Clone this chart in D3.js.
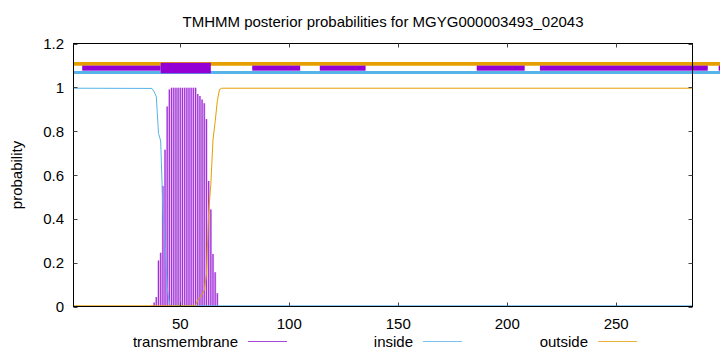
<!DOCTYPE html>
<html>
<head>
<meta charset="utf-8">
<script src="https://cdn.jsdelivr.net/npm/d3@7.9.0/dist/d3.min.js"></script>
<style>
  body { margin: 0; background: #fff; }
  svg { display: block; font-family: "Liberation Sans", Arial, sans-serif; }
</style>
</head>
<body>
<svg id="chart" width="720" height="352"></svg>
<script>
const title = 'TMHMM posterior probabilities for MGYG000003493_02043';
const seqLength = 285;

// transmembrane posterior per residue (only the non-zero part)
const tmResidues = [37, 38, 39, 40, 41, 42, 43, 44, 45, 46, 47, 48, 49, 50, 51, 52,
  53, 54, 55, 56, 57, 58, 59, 60, 61, 62, 63, 64, 65, 66, 67];
const tmValues = [0.005, 0.018, 0.043, 0.21, 0.245, 0.55, 0.715, 0.913, 0.99, 0.998,
  0.998, 0.998, 0.998, 0.998, 0.998, 0.998, 0.998, 0.998, 0.998, 0.998, 0.998,
  0.97, 0.96, 0.944, 0.927, 0.855, 0.573, 0.443, 0.24, 0.156, 0.061];

// inside / outside curves
const insidePos = [1, 37, 38, 39, 40, 41, 42, 43, 44, 45, 46, 285];
const insideVal = [0.996, 0.995, 0.98, 0.957, 0.79, 0.755, 0.45, 0.285, 0.087, 0.01, 0.003, 0.003];
const outsidePos = [1, 57, 58, 59, 60, 61, 62, 63, 64, 65, 66, 67, 68, 69, 285];
const outsideVal = [0.003, 0.003, 0.03, 0.04, 0.056, 0.073, 0.145, 0.427, 0.557, 0.76, 0.844, 0.939, 0.99, 0.996, 0.996];

// topology bar at the top
const topoStart = 1, topoEnd = 300;
const bandSegments = [[5, 41], [83, 105], [114, 135], [186, 208], [215, 292], [297, 310]];
const tmSegments = [[41, 64]];

const xTicks = [50, 100, 150, 200, 250];
const yTicks = [0, 0.2, 0.4, 0.6, 0.8, 1, 1.2];
const legendItems = ['transmembrane', 'inside', 'outside'];

const colors = { tm: '#9400d3', inside: '#56b4e9', outside: '#e69f00' };
const legendColors = ['#a848d8', '#7cc2ec', '#ebb23c'];

const svg = d3.select('#chart');
const x = d3.scaleLinear().domain([1, seqLength]).range([73.5, 692.5]);
const y = d3.scaleLinear().domain([0, 1.2]).range([306.5, 43.5]);

// top topology bar
svg.append('line')
  .attr('x1', x(topoStart)).attr('x2', x(topoEnd))
  .attr('y1', y(1.107)).attr('y2', y(1.107))
  .attr('stroke', colors.outside).attr('stroke-width', 3.7);
svg.append('line')
  .attr('x1', x(topoStart)).attr('x2', x(topoEnd))
  .attr('y1', y(1.068)).attr('y2', y(1.068))
  .attr('stroke', colors.inside).attr('stroke-width', 3);
svg.selectAll('rect.band').data(bandSegments).join('rect')
  .attr('class', 'band')
  .attr('x', d => x(d[0])).attr('width', d => x(d[1]) - x(d[0]))
  .attr('y', y(1.099)).attr('height', y(1.076) - y(1.099))
  .attr('fill', colors.tm);
svg.selectAll('rect.tmbox').data(tmSegments).join('rect')
  .attr('class', 'tmbox')
  .attr('x', d => x(d[0])).attr('width', d => x(d[1]) - x(d[0]))
  .attr('y', y(1.112)).attr('height', y(1.064) - y(1.112))
  .attr('fill', colors.tm);

// transmembrane impulses
const step = x(2) - x(1);
const tm = tmResidues.map((r, i) => ({ r, v: tmValues[i] }));
svg.selectAll('rect.tmfill').data(tm).join('rect')
  .attr('class', 'tmfill')
  .attr('x', d => x(d.r) - step / 2).attr('width', step)
  .attr('y', d => y(d.v)).attr('height', d => y(0) - y(d.v))
  .attr('fill', '#dcaef0');
svg.selectAll('line.tm').data(tm).join('line')
  .attr('class', 'tm')
  .attr('x1', d => x(d.r)).attr('x2', d => x(d.r))
  .attr('y1', y(0)).attr('y2', d => y(d.v))
  .attr('stroke', '#a030d8').attr('stroke-width', 1.1);

// inside / outside curves
const line = d3.line().x(d => x(d[0])).y(d => y(d[1]));
svg.append('path')
  .attr('d', line(insidePos.map((p, i) => [p, insideVal[i]])))
  .attr('fill', 'none').attr('stroke', colors.inside).attr('stroke-width', 1);
svg.append('path')
  .attr('d', line(outsidePos.map((p, i) => [p, outsideVal[i]])))
  .attr('fill', 'none').attr('stroke', colors.outside).attr('stroke-width', 1);

// border
svg.append('rect')
  .attr('x', x.range()[0]).attr('y', y.range()[1])
  .attr('width', x.range()[1] - x.range()[0]).attr('height', y.range()[0] - y.range()[1])
  .attr('fill', 'none').attr('stroke', '#000').attr('stroke-width', 1);

// ticks (inward, mirrored)
const tickLen = 4;
const g = svg.append('g').attr('stroke', '#444').attr('stroke-width', 1);
xTicks.forEach(t => {
  g.append('line').attr('x1', Math.round(x(t)) + 0.5).attr('x2', Math.round(x(t)) + 0.5)
    .attr('y1', y(0)).attr('y2', y(0) - tickLen);
  g.append('line').attr('x1', Math.round(x(t)) + 0.5).attr('x2', Math.round(x(t)) + 0.5)
    .attr('y1', y(1.2)).attr('y2', y(1.2) + tickLen);
});
yTicks.forEach(t => {
  g.append('line').attr('x1', x(1)).attr('x2', x(1) + tickLen)
    .attr('y1', Math.round(y(t)) + 0.5).attr('y2', Math.round(y(t)) + 0.5);
  g.append('line').attr('x1', x(seqLength)).attr('x2', x(seqLength) - tickLen)
    .attr('y1', Math.round(y(t)) + 0.5).attr('y2', Math.round(y(t)) + 0.5);
});

// tick labels
svg.selectAll('text.xt').data(xTicks).join('text')
  .attr('class', 'xt')
  .attr('x', d => x(d)).attr('y', 323)
  .attr('text-anchor', 'middle').attr('dominant-baseline', 'central')
  .attr('font-size', 15).text(d => d);
svg.selectAll('text.yt').data(yTicks).join('text')
  .attr('class', 'yt')
  .attr('x', 64).attr('y', d => y(d))
  .attr('text-anchor', 'end').attr('dominant-baseline', 'central')
  .attr('font-size', 15).text(d => d);

// axis label and title
svg.append('text')
  .attr('transform', `translate(16,${(y(0) + y(1.2)) / 2}) rotate(-90)`)
  .attr('text-anchor', 'middle').attr('dominant-baseline', 'central')
  .attr('font-size', 15).text('probability');
svg.append('text')
  .attr('x', (x.range()[0] + x.range()[1]) / 2).attr('y', 21)
  .attr('text-anchor', 'middle').attr('dominant-baseline', 'central')
  .attr('font-size', 15).text(title);

// legend
legendItems.forEach((name, i) => {
  const lx = 248 + i * 175;
  svg.append('text')
    .attr('x', lx - 10).attr('y', 341)
    .attr('text-anchor', 'end').attr('dominant-baseline', 'central')
    .attr('font-size', 15).text(name);
  svg.append('line')
    .attr('x1', lx).attr('x2', lx + 39)
    .attr('y1', 341.5).attr('y2', 341.5)
    .attr('stroke', legendColors[i]).attr('stroke-width', 1);
});
</script>
</body>
</html>
